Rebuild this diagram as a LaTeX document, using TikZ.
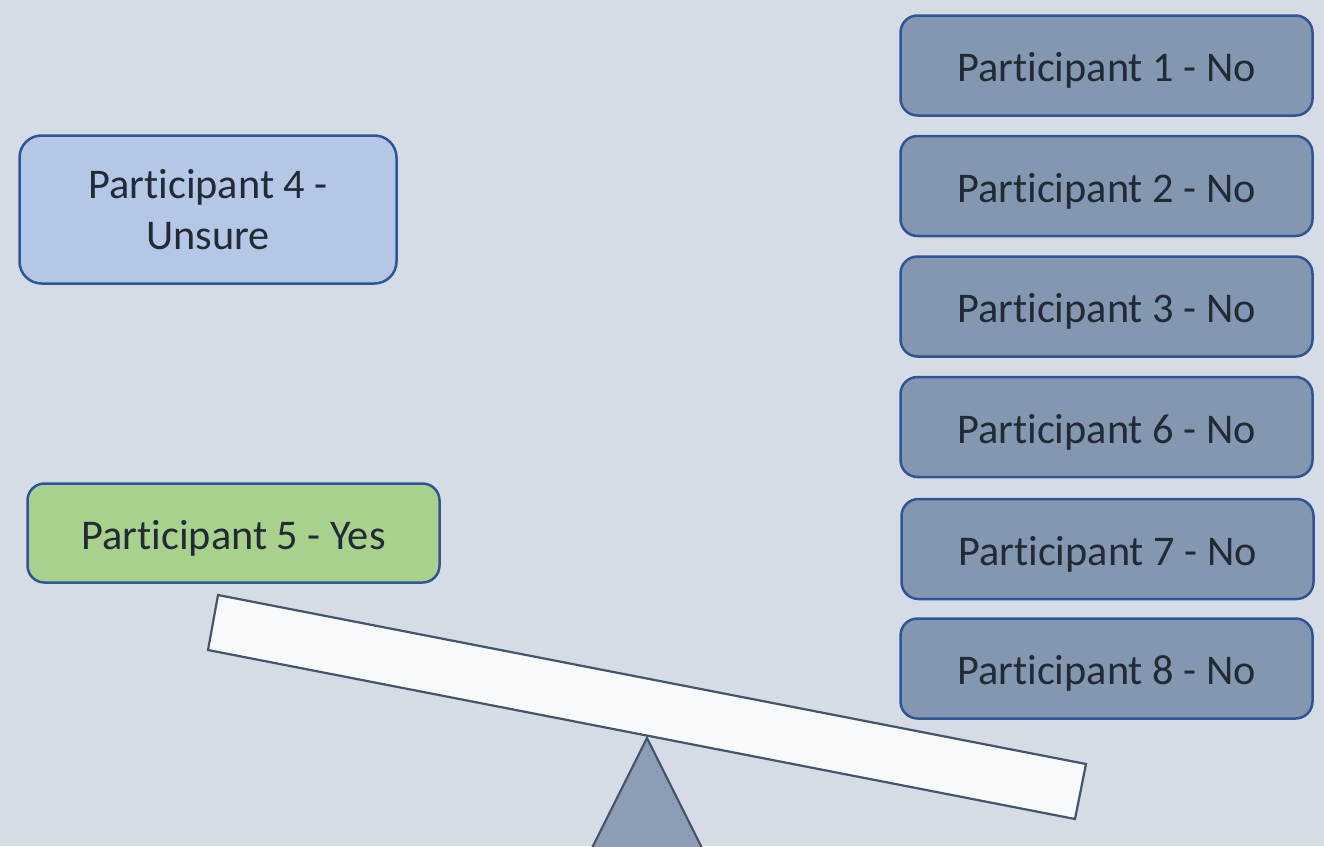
\documentclass[tikz,border=0pt]{standalone}
\usepackage{fontspec}
\setmainfont{Carlito}[Ligatures={NoCommon}]
\definecolor{bg}{HTML}{D6DCE5}
\definecolor{nofill}{HTML}{8497B0}
\definecolor{boxline}{HTML}{2F5597}
\definecolor{unsurefill}{HTML}{B4C7E7}
\definecolor{yesfill}{HTML}{A9D18E}
\definecolor{beamfill}{HTML}{F8F9FB}
\definecolor{beamline}{HTML}{44546A}
\definecolor{fulcrum}{HTML}{8C9DB5}
\definecolor{txt}{HTML}{222A35}
\newcommand\lowered[2]{\raisebox{-#1}[\height][\depth]{#2}}
\tikzset{
  pbox/.style={draw=boxline, line width=2.5pt, rounded corners=17pt, inner sep=0pt,
    text=txt, font=\fontsize{42.3}{51}\selectfont, align=center},
  nobox/.style={pbox, fill=nofill, minimum width=412pt, minimum height=100pt},
}
\begin{document}
\begin{tikzpicture}[x=1pt,y=-1pt]
\clip (0,0) rectangle (1324,846);
\fill[bg] (0,0) rectangle (1324,846);
% fulcrum
\draw[fill=fulcrum, draw=beamline, line width=2.2pt, line join=miter] (647,738) -- (566,900) -- (728,900) -- cycle;
% beam
\draw[fill=beamfill, draw=beamline, line width=2.2pt] (218,595) -- (1086,764) -- (1075,819) -- (208,650) -- cycle;
% right column
\node[nobox] (p1) at (1106.5,65.5) {\lowered{5pt}{Participant 1 - No}};
\node[nobox] (p2) at (1106.5,186) {\lowered{5pt}{Participant 2 - No}};
\node[nobox] (p3) at (1106.5,306.5) {\lowered{5pt}{Participant 3 - No}};
\node[nobox] (p6) at (1106.5,427) {\lowered{5pt}{Participant 6 - No}};
\node[nobox] (p7) at (1107.5,549) {\lowered{5pt}{Participant 7 - No}};
\node[nobox] (p8) at (1106.5,668.5) {\lowered{5pt}{Participant 8 - No}};
% left
\node[pbox, fill=unsurefill, rounded corners=22pt, minimum width=377pt, minimum height=148pt] (p4) at (208,209.5) {Participant 4 -\\Unsure};
\node[pbox, fill=yesfill, minimum width=412pt, minimum height=99pt] (p5) at (233.5,533) {\lowered{5.5pt}{Participant 5 - Yes}};
\end{tikzpicture}
\end{document}
